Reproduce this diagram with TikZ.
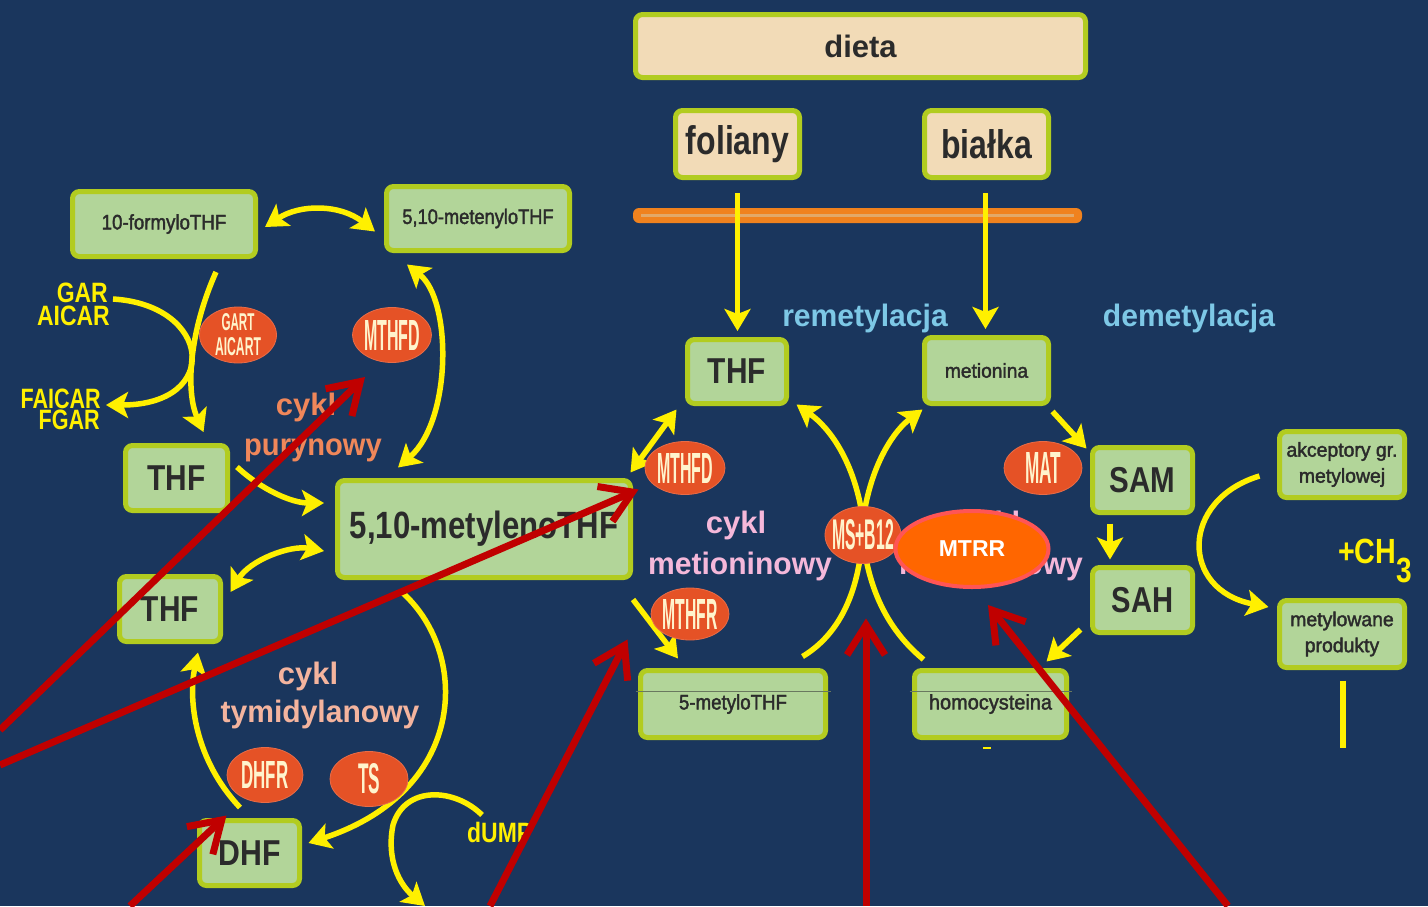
\documentclass[tikz,border=0pt]{standalone}
\usepackage{fontspec}
\setmainfont{Liberation Sans}
\newfontfamily\medfont[FakeBold=2]{Liberation Sans}
\usepackage{graphicx}
\usetikzlibrary{arrows.meta,shapes.geometric,calc}
\pgfdeclarelayer{canvas}
\pgfdeclarelayer{flows}
\pgfsetlayers{canvas,flows,main}

\definecolor{bg}{RGB}{26,54,93}
\definecolor{boxfill}{RGB}{178,213,153}
\definecolor{boxedge}{RGB}{178,204,32}
\definecolor{beige}{RGB}{242,219,183}
\definecolor{ink}{RGB}{43,43,43}
\definecolor{enzfill}{RGB}{229,82,38}
\definecolor{enzink}{RGB}{255,244,205}
\definecolor{flow}{RGB}{255,240,0}
\definecolor{redmark}{RGB}{192,0,0}
\definecolor{skyblue}{RGB}{125,200,230}
\definecolor{purine}{RGB}{240,135,90}
\definecolor{methpink}{RGB}{245,184,218}
\definecolor{thympink}{RGB}{244,180,158}
\definecolor{barorange}{RGB}{240,130,30}
\definecolor{barlight}{RGB}{226,168,104}
\definecolor{mtrrfill}{RGB}{255,102,0}
\definecolor{mtrredge}{RGB}{255,85,85}
\definecolor{rule}{RGB}{105,120,95}

% horizontal squeeze of a label
\newcommand\hsq[2]{\scalebox{#1}[1]{#2}}
% enzyme label forced to a given width and height
\newcommand\elab[3]{\resizebox{#1pt}{#2pt}{\bfseries #3}}

\begin{document}
\begin{tikzpicture}[x=1pt,y=-1pt,
  box/.style={rectangle, rounded corners=7pt, fill=boxfill, draw=boxedge, line width=5pt, text=ink, inner sep=0pt, align=center},
  bigtext/.style={font=\fontsize{36}{40}\selectfont\bfseries},
  smalltext/.style={font=\fontsize{21}{26}\medfont},
  sidetext/.style={font=\fontsize{20}{26}\medfont},
  enzyme/.style={ellipse, fill=enzfill, draw=enzfill!85!white, line width=0.8pt, inner sep=0pt},
  enzlab/.style={text=enzink, inner sep=0pt, align=center, font=\fontsize{20}{25}\selectfont},
  ytip/.tip={Stealth[length=22pt,width=26pt,inset=5pt]},
  yarrow/.style={draw=flow, line width=5.5pt, -ytip},
  ytwo/.style={draw=flow, line width=5.5pt, ytip-ytip},
  yline/.style={draw=flow, line width=5.5pt},
  redarrow/.style={draw=redmark, line width=7pt, -{Straight Barb[length=30pt,width=38pt]}},
  cyc/.style={font=\fontsize{31}{36}\selectfont\bfseries, anchor=base, inner sep=0pt},
  side/.style={font=\fontsize{28}{30}\selectfont\bfseries, text=flow, anchor=base east, inner sep=0pt},
]
\useasboundingbox (0,0) rectangle (1428,906);
\begin{pgfonlayer}{canvas}
  \fill[bg] (0,0) rectangle (1428,906);
\end{pgfonlayer}

% ---------- diet ----------
\node[box, fill=beige, minimum width=450pt, minimum height=63pt, font=\fontsize{31}{31}\selectfont\bfseries] (dieta) at (860.5,46) {dieta};
\node[box, fill=beige, minimum width=124pt, minimum height=67pt, font=\fontsize{40}{40}\selectfont\bfseries] (fol) at (737.5,144) {\hsq{0.8}{foliany}};
\node[box, fill=beige, minimum width=124pt, minimum height=67pt, font=\fontsize{40}{40}\selectfont\bfseries] (bia) at (986.5,144) {\hsq{0.8}{białka}};

% ---------- folate boxes ----------
\node[box, smalltext, minimum width=183pt, minimum height=65pt] (form) at (164,224) {\hsq{0.89}{10-formyloTHF}};
\node[box, smalltext, minimum width=183pt, minimum height=64pt] (meten) at (478,218.5) {\hsq{0.87}{5,10-metenyloTHF}};
\node[box, bigtext, minimum width=102pt, minimum height=65pt] (thfa) at (176.5,478) {\hsq{0.83}{THF}};
\node[box, font=\fontsize{38}{40}\selectfont\bfseries, minimum width=293pt, minimum height=97pt] (mlen) at (484,529) {\hsq{0.82}{5,10-metylenoTHF}};
\node[box, bigtext, minimum width=101pt, minimum height=65pt] (thfb) at (170,609) {\hsq{0.83}{THF}};
\node[box, bigtext, minimum width=100pt, minimum height=65pt] (dhf) at (249.5,853) {\hsq{0.84}{DHF}};

% ---------- methionine cycle boxes ----------
\node[box, bigtext, minimum width=99pt, minimum height=64pt] (thfc) at (737,371.5) {\hsq{0.83}{THF}};
\node[box, sidetext, minimum width=124pt, minimum height=66pt] (met) at (986.5,370.5) {\hsq{0.96}{metionina}};
\node[box, smalltext, minimum width=185pt, minimum height=67pt] (mthf) at (733,704) {\hsq{0.89}{5-metyloTHF}};
\node[box, smalltext, minimum width=152pt, minimum height=67pt] (hcy) at (990.5,704) {\hsq{0.95}{homocysteina}};
\node[box, bigtext, minimum width=100pt, minimum height=65pt] (sam) at (1142.5,480) {\hsq{0.82}{SAM}};
\node[box, bigtext, minimum width=100pt, minimum height=65pt] (sah) at (1142.5,600) {\hsq{0.81}{SAH}};
\node[box, sidetext, minimum width=125pt, minimum height=66pt] (akc) at (1342,464.5) {\hsq{0.97}{akceptory gr.}\\\hsq{0.97}{metylowej}};
\node[box, sidetext, minimum width=125pt, minimum height=67pt] (mprod) at (1342,634) {\hsq{0.97}{metylowane}\\\hsq{0.97}{produkty}};

% table rules crossing two boxes
\draw[rule, line width=1pt] ($(mthf.west)+(-2.5,-13)$) -- ($(mthf.east)+(2.5,-13)$);
\draw[rule, line width=1pt] ($(hcy.west)+(-2.5,-13)$) -- ($(hcy.east)+(2.5,-13)$);

% ---------- cycle titles ----------
\node[cyc, text=purine] (cyka) at (306,415) {cykl};
\node[cyc, text=purine] (cykb) at (313,455) {\hsq{0.94}{purynowy}};
\node[cyc, text=methpink] (cykc) at (736,533) {cykl};
\node[cyc, text=methpink] (cykd) at (740,574) {\hsq{0.97}{metioninowy}};
\node[cyc, text=thympink] (cyke) at (308,684) {cykl};
\node[cyc, text=thympink] (cykf) at (320,722) {\hsq{0.97}{tymidylanowy}};
\node[cyc, text=methpink] (cykg) at (990,533) {cykl};
\node[cyc, text=methpink] (cykh) at (991,574) {\hsq{0.97}{metioninowy}};
\node[cyc, text=skyblue] (remet) at (865,326) {\hsq{0.97}{remetylacja}};
\node[cyc, text=skyblue] (demet) at (1189,326) {\hsq{0.97}{demetylacja}};

% ---------- side substrates ----------
\node[side] (gar) at (108,302) {\hsq{0.82}{GAR}};
\node[side] (aicar) at (110,325) {\hsq{0.82}{AICAR}};
\node[side] (faicar) at (101,408) {\hsq{0.77}{FAICAR}};
\node[side] (fgar) at (100,429) {\hsq{0.77}{FGAR}};
\node[side, anchor=base west] (dump) at (467,842) {\hsq{0.82}{dUMP}};
\node[side, anchor=base west, font=\fontsize{35}{35}\selectfont\bfseries] (ch3) at (1338,563) {\hsq{0.82}{+CH}\raisebox{-19pt}{\hsq{0.8}{3}}};

% ---------- enzymes ----------
\node[enzyme, minimum width=77pt, minimum height=56pt] (gart) at (238,335) {};
\node[enzlab] at (gart) {\elab{33}{17}{GART}\\\elab{46}{18}{AICART}};
\node[enzyme, minimum width=79pt, minimum height=55pt] (mthfdl) at (392,335) {};
\node[enzlab] at (mthfdl) {\elab{56}{30}{MTHFD}};
\node[enzyme, minimum width=80pt, minimum height=53pt] (mthfdc) at (685,468) {};
\node[enzlab] at (mthfdc) {\elab{56}{30}{MTHFD}};
\node[enzyme, minimum width=78pt, minimum height=52pt] (mthfr) at (690,614) {};
\node[enzlab] at (mthfr) {\elab{55}{30}{MTHFR}};
\node[enzyme, minimum width=76pt, minimum height=57pt] (msb) at (863,535) {};
\node[enzlab] at (msb) {\elab{62}{30}{MS+B12}};
\node[enzyme, minimum width=78pt, minimum height=53pt] (mat) at (1043,468) {};
\node[enzlab] at (mat) {\elab{36}{31}{MAT}};
\node[enzyme, minimum width=76pt, minimum height=55pt] (dhfr) at (265,775) {};
\node[enzlab] at (dhfr) {\elab{47}{27}{DHFR}};
\node[enzyme, minimum width=78pt, minimum height=55pt] (ts) at (369,779) {};
\node[enzlab] at (ts) {\elab{22}{30}{TS}};
\node[ellipse, fill=mtrrfill, draw=mtrredge, line width=4pt, inner sep=0pt, minimum width=153pt, minimum height=76pt, text=white, font=\fontsize{23}{23}\selectfont\bfseries] (mtrr) at (972,549) {MTRR};

% ---------- flows ----------
\begin{pgfonlayer}{flows}
  % absorption barrier
  \fill[barorange, rounded corners=6pt] (633,208) rectangle (1082,223);
  \draw[barlight, line width=2.5pt] (641,215.5) -- (1074,215.5);

  % purine cycle
  \draw[ytwo] ($(form.east)+(7,3)$) .. controls (300,204) and (340,204) .. ($(meten.west)+(-9,13)$);
  \draw[yarrow] ($(form.south)+(52,13)$) .. controls (190,330) and (185,390) .. ($(thfa.north)+(27,-11)$);
  \draw[yarrow] ($(gar.base east)+(5,-3)$) .. controls (212,305) and (222,405) .. ($(faicar.base east)+(5,-3)$);
  \draw[ytwo] ($(meten.south)+(-71,11.5)$) .. controls (452,300) and (452,420) .. ($(mlen.north)+(-86,-10.5)$);
  \draw[yarrow] ($(thfa.east)+(7,-11)$) .. controls (262,490) and (292,503) .. ($(mlen.west)+(-11,-26)$);

  % thymidylate cycle
  \draw[ytwo] ($(mlen.west)+(-11,22)$) .. controls (290,545) and (250,560) .. ($(thfb.east)+(7.5,-17)$);
  \draw[yarrow] ($(mlen.south)+(-84,10.5)$) .. controls (470,650) and (470,790) .. ($(dhf.east)+(6.5,-10)$);
  \draw[yarrow] ($(dhf.north)+(-9.5,-10.5)$) .. controls (195,760) and (188,700) .. ($(thfb.south)+(28,8.5)$);
  \coordinate (dumpout) at (425,906);
  \draw[yarrow] ($(dump.base west)+(15,-27)$) .. controls (455,788) and (405,785) .. (393,825) .. controls (386,860) and (400,885) .. (dumpout);

  % diet inputs
  \draw[yarrow] ($(fol.south)+(0,13)$) -- ($(thfc.north)+(0.5,-6)$);
  \draw[yarrow] ($(bia.south)+(-1,13)$) -- ($(met.north)+(-1,-6)$);

  % methionine cycle
  \draw[ytwo] ($(mlen.north east)+(-2.5,-5.5)$) -- ($(thfc.south west)+(-8.5,3.5)$);
  \draw[yarrow] ($(mlen.south east)+(0,19.5)$) -- ($(mthf.north west)+(40,-9.5)$);
  \draw[yarrow] ($(msb.north)+(-2,2)$) .. controls (852,460) and (830,428) .. ($(thfc.south east)+(7.5,-1.5)$);
  \draw[yarrow] ($(msb.north)+(2,2)$) .. controls (874,460) and (895,430) .. ($(met.south west)+(0.5,3.5)$);
  \draw[yline] ($(msb.south)+(-3,-5)$) .. controls (852,610) and (830,640) .. ($(mthf.north east)+(-25.5,-11.5)$);
  \draw[yline] ($(msb.south)+(3,-5)$) .. controls (876,610) and (900,640) .. ($(hcy.north west)+(11.5,-8.5)$);
  \draw[yarrow] ($(met.south east)+(1.5,5.5)$) -- ($(sam.north west)+(-3.5,3.5)$);
  \draw[yarrow] ($(sam.south)+(-32.5,8.5)$) -- ($(sah.north)+(-32.5,-5.5)$);
  \draw[yarrow] ($(sah.south west)+(-9.5,-5.5)$) -- ($(hcy.north east)+(-22.5,-6.5)$);

  % methyl transfer
  \draw[yarrow] ($(akc.west)+(-17.5,11.5)$) .. controls (1180,500) and (1180,590) .. ($(mprod.west)+(-8.5,-27)$);
  \coordinate (tailend) at (1343,748);
  \draw[yline] ($(mprod.south)+(1,10.5)$) -- (tailend);
  \draw[flow, line width=2.5pt] (983,748) -- (991,748);
\end{pgfonlayer}

% ---------- red pointers ----------
\coordinate (ra) at (0,730);
\coordinate (rb) at (0,765);
\coordinate (rc) at (130,906);
\coordinate (rd) at (490,906);
\coordinate (re) at (866,906);
\coordinate (rf) at (1228,906);
\draw[redarrow] (ra) -- ($(mthfdl)+(-27,42)$);
\draw[redarrow] (rb) -- ($(mlen.north east)+(5.5,11.5)$);
\draw[redarrow] (rc) -- ($(dhf.north west)+(29.5,-2.5)$);
\draw[redarrow] (rd) -- ($(mlen.south east)+(-5.5,59.5)$);
\draw[redarrow] (re) -- ($(msb.south)+(3,54.5)$);
\draw[redarrow] (rf) -- ($(mtrr.south)+(16,16)$);
\end{tikzpicture}
\end{document}
